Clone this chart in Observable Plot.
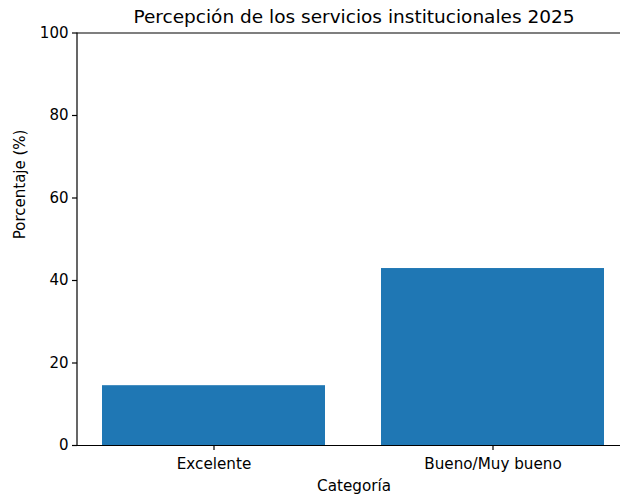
<!DOCTYPE html>
<html><head><meta charset="utf-8">
<script src="https://cdn.jsdelivr.net/npm/d3@7"></script>
<script src="https://cdn.jsdelivr.net/npm/@observablehq/plot@0.6"></script>
<style>
html,body{margin:0;padding:0;overflow:hidden;background:#fff;}
#chart svg{display:block;}
</style>
</head><body><div id="chart"></div>
<script>
const categories = ["Excelente", "Bueno/Muy bueno"];
const values = [14.5, 42.9];
const yTicks = [0, 20, 40, 60, 80, 100];
const yDomain = [0, 100];
const title = "Percepción de los servicios institucionales 2025";
const xLabel = "Categoría";
const yLabel = "Porcentaje (%)";

const data = categories.map((c, i) => ({categoria: c, porcentaje: values[i]}));
const font = "'DejaVu Sans', sans-serif";

// left spine (the right spine lies outside the visible figure, as in the reference)
const leftSpine = (index, scales, values, dims) =>
  d3.create("svg:line")
    .attr("x1", dims.marginLeft).attr("x2", dims.marginLeft)
    .attr("y1", dims.marginTop).attr("y2", dims.height - dims.marginBottom)
    .attr("stroke", "#000").attr("stroke-width", 1.2)
    .node();

const chart = Plot.plot({
  width: 620,
  height: 494,
  marginLeft: 77,
  marginRight: 0,
  marginTop: 32.5,
  marginBottom: 49,
  style: {fontFamily: font, fontSize: "15px", color: "#000", background: "#fff"},
  x: {domain: categories, range: [77, 630], paddingInner: 0.2, paddingOuter: 0.09, label: null},
  y: {domain: yDomain, label: null},
  marks: [
    Plot.barY(data, {x: "categoria", y: "porcentaje", fill: "#1f77b4"}),
    Plot.ruleY(yDomain, {stroke: "#000", strokeWidth: 1.2}),
    leftSpine,
    Plot.axisY(yTicks, {tickSize: 5, tickPadding: 4, fontSize: 15, strokeWidth: 1.2, label: null}),
    Plot.axisX({tickSize: 5, tickPadding: 8, fontSize: 15.2, strokeWidth: 1.2, label: null}),
    Plot.text([title], {frameAnchor: "top", lineAnchor: "middle", dx: 5, dy: -15.8, fontSize: 18.5, fill: "#000"}),
    Plot.text([xLabel], {frameAnchor: "bottom", lineAnchor: "middle", dx: 5, dy: 40.2, fontSize: 15.2, fill: "#000"}),
    Plot.text([yLabel], {frameAnchor: "left", lineAnchor: "middle", dx: -57.5, rotate: -90, fontSize: 15, fill: "#000"})
  ]
});
document.getElementById("chart").appendChild(chart);
</script>
</body></html>
